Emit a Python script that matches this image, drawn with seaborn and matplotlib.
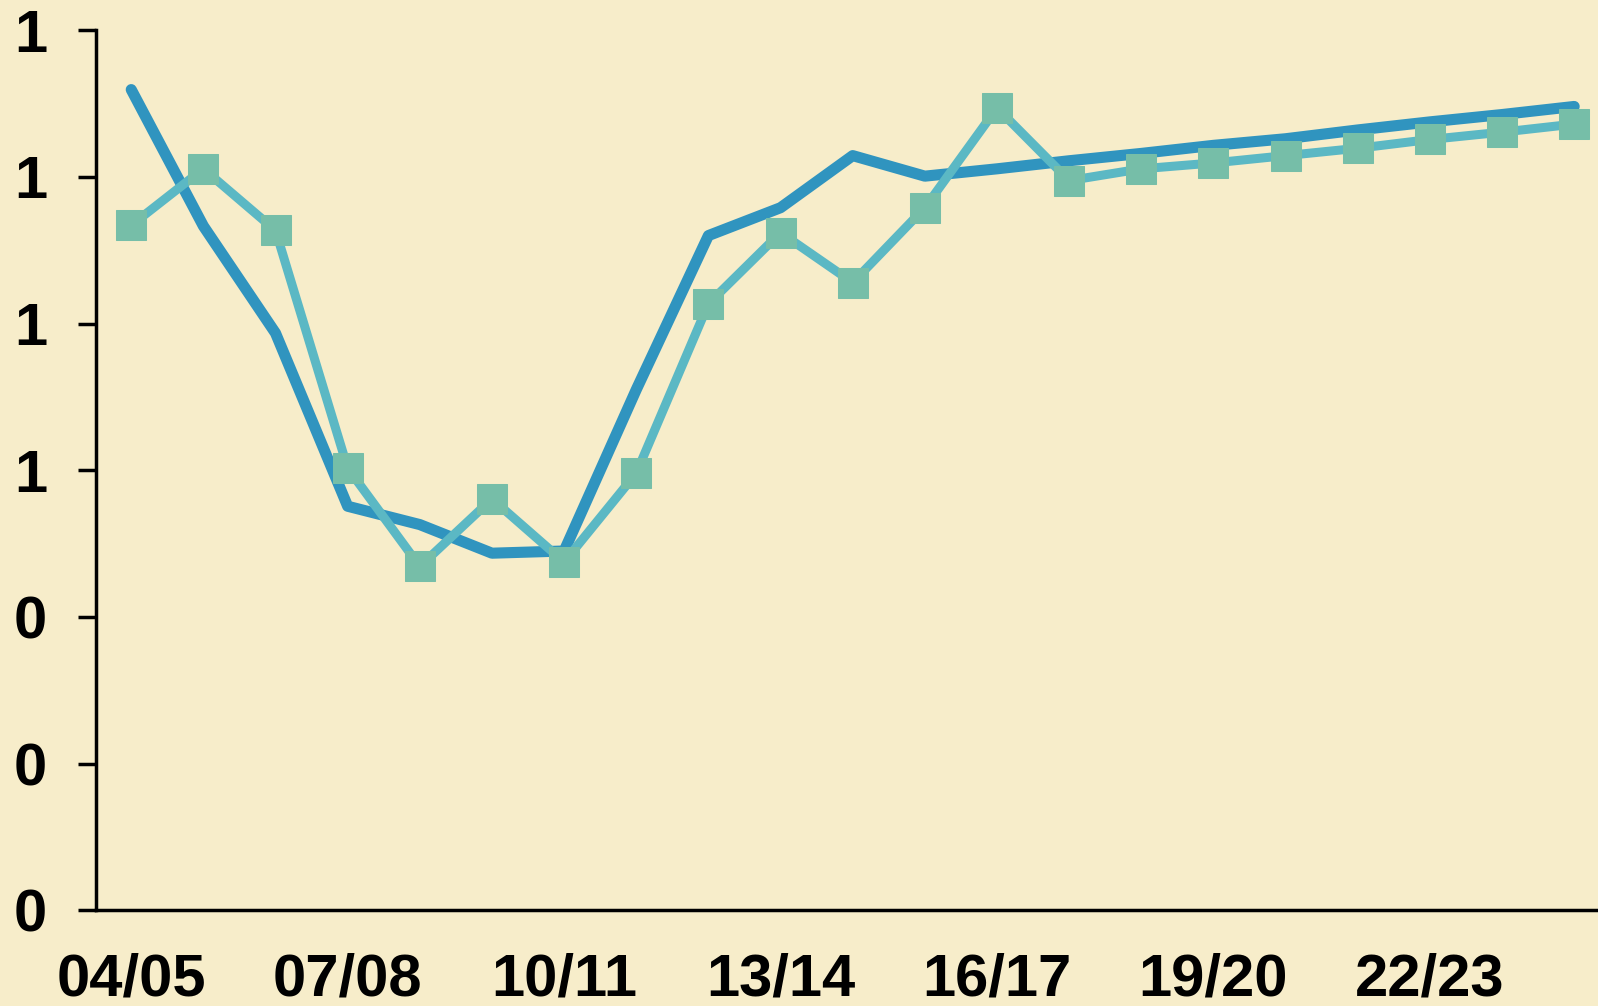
import pandas as pd
import matplotlib
matplotlib.use('agg')
import matplotlib.pyplot as plt
import seaborn as sns
from matplotlib.ticker import FormatStrFormatter

sns.set_theme(style="white")
plt.rcParams['font.family'] = ['Liberation Sans', 'DejaVu Sans']

# temporadas 04/05 .. 24/25
temporadas = [f"{a:02d}/{a+1:02d}" for a in range(4, 25)]

serie_linea = [1.119, 0.933, 0.787, 0.551, 0.526, 0.487, 0.490, 0.710, 0.920,
               0.958, 1.029, 1.001, 1.011, 1.022, 1.032, 1.043, 1.052, 1.064,
               1.075, 1.085, 1.096]
serie_cuadros = [0.934, 1.011, 0.927, 0.603, 0.469, 0.561, 0.475, 0.596, 0.827,
                 0.924, 0.856, 0.958, 1.094, 0.995, 1.011, 1.019, 1.029, 1.039,
                 1.051, 1.061, 1.072]

etiquetas_x = ["04/05", "07/08", "10/11", "13/14", "16/17", "19/20", "22/23"]

fondo = "#F7EDCA"
azul = "#3094BF"
turquesa = "#5BB8C4"
verde = "#76BEA8"

df = pd.DataFrame({"temporada": temporadas, "linea": serie_linea, "cuadros": serie_cuadros})
df["pos"] = range(len(df))

fig = plt.figure(figsize=(15.98, 10.06), dpi=100, facecolor=fondo)
ax = fig.add_axes([0.060, 0.095, 0.940, 0.875])
ax.set_facecolor(fondo)

sns.lineplot(data=df, x="pos", y="linea", color=azul, linewidth=8,
             solid_capstyle="round", ax=ax)
sns.lineplot(data=df, x="pos", y="cuadros", color=turquesa, linewidth=6.5,
             marker="s", markersize=21, markerfacecolor=verde,
             markeredgecolor=verde, ax=ax)

ax.set_xlim(-0.49, 20.33)
ax.set_ylim(0, 1.2)
ax.set_yticks([0, 0.2, 0.4, 0.6, 0.8, 1.0, 1.2])
ax.yaxis.set_major_formatter(FormatStrFormatter("%.0f"))
ax.set_xticks(range(0, 21, 3))
ax.set_xticklabels(etiquetas_x)
ax.set_xlabel("")
ax.set_ylabel("")

for lado in ["top", "right"]:
    ax.spines[lado].set_visible(False)
for lado in ["left", "bottom"]:
    ax.spines[lado].set_color("black")
    ax.spines[lado].set_linewidth(2.5)

ax.tick_params(axis="y", left=True, length=13, width=2.5, color="black",
               labelsize=43, pad=22, direction="out")
ax.tick_params(axis="x", bottom=False, labelsize=43, pad=24)
for t in ax.get_xticklabels() + ax.get_yticklabels():
    t.set_fontweight("bold")
    t.set_color("black")

fig.savefig("out.png", dpi=100, facecolor=fondo)
